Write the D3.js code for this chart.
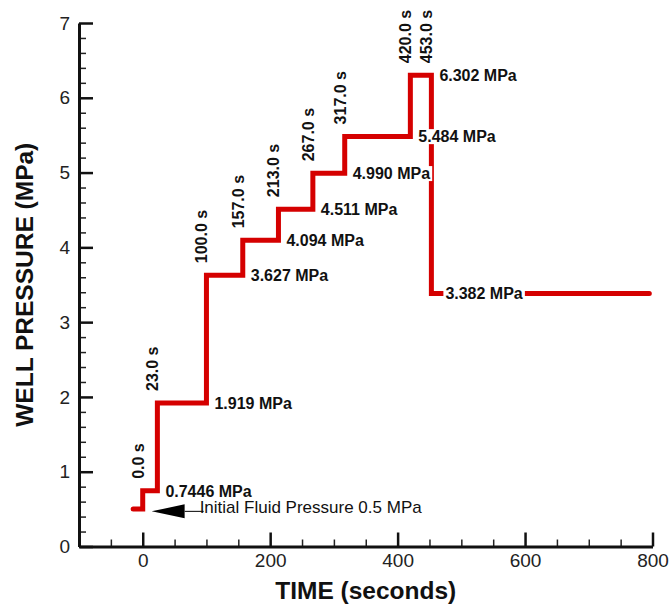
<!DOCTYPE html>
<html lang="en">
<head>
<meta charset="UTF-8" />
<title>Well pressure steps</title>
<script src="https://cdnjs.cloudflare.com/ajax/libs/d3/7.8.5/d3.min.js"></script>
<style>
  * { margin: 0; padding: 0; box-sizing: border-box; }
  body { background: #fff; width: 669px; height: 610px; overflow: hidden; }
  svg { display: block; font-family: "Liberation Sans", Arial, sans-serif; }
  .tick text { font-size: 19px; fill: #222; }
  .lbl { font-size: 16px; font-weight: bold; fill: #111; }
</style>
</head>
<body>
<svg id="chart" width="669" height="610"></svg>
<script>
  // -------- Data --------
  const stepTimes = [-15, 0, 23, 100, 157, 213, 267, 317, 420, 453];   // s, start of each level
  const endTime = 795;
  const pressures = [0.5, 0.7446, 1.919, 3.627, 4.094, 4.511, 4.990, 5.484, 6.302, 3.382]; // MPa
  const pressureText = ["0.5", "0.7446", "1.919", "3.627", "4.094", "4.511", "4.990", "5.484", "6.302", "3.382"];
  const xMajor = [0, 200, 400, 600, 800];
  const yMajor = [0, 1, 2, 3, 4, 5, 6, 7];
  const initNote = { t: 14, p: 0.47, text: "Initial Fluid Pressure 0.5 MPa" };

  const svg = d3.select("#chart");
  const x = d3.scaleLinear().domain([-100, 800]).range([79, 652.5]);
  const y = d3.scaleLinear().domain([0, 7]).range([546.5, 23]);

  // -------- Axes --------
  const xMinor = d3.range(-50, 800, 50).filter(v => v % 200 !== 0);
  const yMinor = d3.range(0, 7.001, 0.2).filter(v => Math.abs(v - Math.round(v)) > 0.01);

  svg.append("g").attr("transform", `translate(0,${y(0)})`)
    .call(d3.axisBottom(x).tickValues(xMinor).tickSize(-7).tickSizeOuter(0).tickFormat(""))
    .call(g => g.select(".domain").remove())
    .call(g => g.selectAll("line").attr("stroke", "#222").attr("stroke-width", 1.5));
  svg.append("g").attr("transform", `translate(${x(-100)},0)`)
    .call(d3.axisLeft(y).tickValues(yMinor).tickSize(-7).tickSizeOuter(0).tickFormat(""))
    .call(g => g.select(".domain").remove())
    .call(g => g.selectAll("line").attr("stroke", "#222").attr("stroke-width", 1.5));

  svg.append("g").attr("transform", `translate(0,${y(0)})`)
    .call(d3.axisBottom(x).tickValues(xMajor).tickSize(-14).tickSizeOuter(0).tickPadding(7).tickFormat(d3.format("d")))
    .call(g => g.select(".domain").attr("stroke", "#111").attr("stroke-width", 3))
    .call(g => g.selectAll("line").attr("stroke", "#111").attr("stroke-width", 2.5));
  svg.append("g").attr("transform", `translate(${x(-100)},0)`)
    .call(d3.axisLeft(y).tickValues(yMajor).tickSize(-14).tickSizeOuter(0).tickPadding(9).tickFormat(d3.format("d")))
    .call(g => g.select(".domain").attr("stroke", "#111").attr("stroke-width", 3))
    .call(g => g.selectAll("line").attr("stroke", "#111").attr("stroke-width", 2.5));
  svg.selectAll(".tick text").attr("font-family", null).attr("font-size", null);

  // axis titles
  svg.append("text")
    .attr("x", (x.range()[0] + x.range()[1]) / 2).attr("y", 599)
    .attr("text-anchor", "middle").attr("font-size", 24.5).attr("font-weight", "bold").attr("fill", "#111")
    .text("TIME (seconds)");
  svg.append("text")
    .attr("transform", `translate(33,${(y.range()[0] + y.range()[1]) / 2}) rotate(-90)`)
    .attr("text-anchor", "middle").attr("font-size", 24.5).attr("font-weight", "bold").attr("fill", "#111")
    .text("WELL PRESSURE (MPa)");

  // -------- Step line --------
  const pts = stepTimes.map((t, i) => [t, pressures[i]]);
  pts.push([endTime, pressures[pressures.length - 1]]);
  svg.append("path")
    .attr("d", d3.line().x(d => x(d[0])).y(d => y(d[1])).curve(d3.curveStepAfter)(pts))
    .attr("fill", "none").attr("stroke", "#d50000").attr("stroke-width", 5)
    .attr("stroke-linecap", "round").attr("stroke-linejoin", "miter");

  // boxed label helper
  function boxed(g, pad) {
    const b = g.select("text").node().getBBox();
    g.insert("rect", "text").attr("x", b.x - pad).attr("y", b.y + 1)
      .attr("width", b.width + 2 * pad).attr("height", b.height - 2).attr("fill", "#fff");
  }

  // pressure labels (at the end of each level; final level at its start)
  const last = pressures.length - 1;
  pressures.forEach((p, i) => {
    if (i === 0) return;
    const at = i < last ? stepTimes[i + 1] : stepTimes[i];
    const gap = i < last ? 8 : 14;
    const g = svg.append("g");
    g.append("text").attr("class", "lbl")
      .attr("x", x(at) + gap).attr("y", y(p)).attr("dy", "0.36em")
      .text(pressureText[i] + " MPa");
    boxed(g, 2);
  });

  // time labels (rotated, above each step)
  stepTimes.forEach((t, i) => {
    if (i === 0) return;
    const top = Math.max(pressures[i - 1], pressures[i]);
    svg.append("text").attr("class", "lbl")
      .attr("transform", `translate(${x(t) + 1},${y(top) - 12}) rotate(-90)`)
      .text(t.toFixed(1) + " s");
  });

  // initial pressure note with arrow
  const ax = x(initNote.t), ay = y(initNote.p);
  svg.append("path")
    .attr("d", `M${ax},${ay} L${ax + 33},${ay - 7} L${ax + 33},${ay + 7} Z`)
    .attr("fill", "#000");
  svg.append("line")
    .attr("x1", ax + 33).attr("x2", ax + 52).attr("y1", ay).attr("y2", ay)
    .attr("stroke", "#000").attr("stroke-width", 1);
  svg.append("text")
    .attr("x", ax + 48).attr("y", ay + 2)
    .attr("font-size", 17).attr("fill", "#111")
    .text(initNote.text);
</script>
</body>
</html>
